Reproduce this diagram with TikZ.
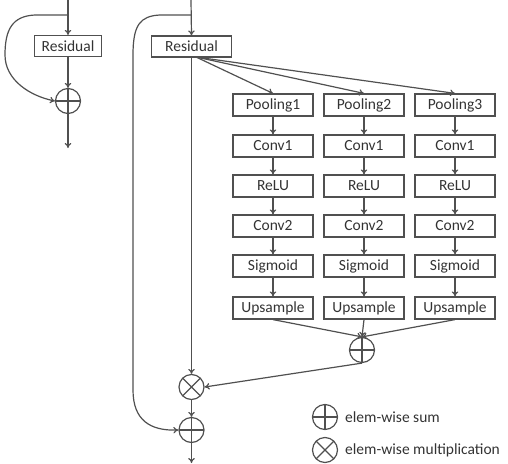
\documentclass[tikz,border=0pt]{standalone}
\usepackage{fontspec}
\setmainfont{Carlito}
\usetikzlibrary{arrows.meta}
\definecolor{ln}{HTML}{505050}
\definecolor{tx}{HTML}{333333}
\begin{document}
\begin{tikzpicture}[x=1pt,y=-1pt,
  lin/.style={draw=ln, line width=1.2pt},
  arr/.style={lin, -{To[length=5pt,width=6.5pt]}},
  box/.style={draw=ln, line width=1.2pt, minimum width=80pt, minimum height=22pt, inner sep=0pt, text=tx, font=\fontsize{15.5}{18}\selectfont},
  sumc/.style={draw=ln, line width=1.2pt, circle, minimum size=25pt, inner sep=0pt,
    path picture={\draw[ln, line width=1.2pt] (path picture bounding box.north) -- (path picture bounding box.south) (path picture bounding box.west) -- (path picture bounding box.east);}},
  mulc/.style={draw=ln, line width=1.2pt, circle, minimum size=25pt, inner sep=0pt,
    path picture={\draw[ln, line width=1.2pt] (path picture bounding box.north west) -- (path picture bounding box.south east) (path picture bounding box.north east) -- (path picture bounding box.south west);}},
  lab/.style={anchor=west, text=tx, inner sep=0pt, font=\fontsize{15.5}{18}\selectfont}
]
\useasboundingbox (0,0) rectangle (508,463);
% ---- left small block ----
\coordinate (lin) at (68,0);
\coordinate (lbr) at (68,15);
\node[box, minimum width=67pt, minimum height=21pt] (lres) at (68,46) {Residual};
\node[sumc] (lsum) at (68,101) {};
\coordinate (lout) at (68,148);
\draw[arr] (lin) -- (lres.north);
\draw[arr] (lres.south) -- (lsum.north);
\draw[arr] (lsum.south) -- (lout);
\draw[arr] (lbr) -- (35,15) .. controls (12,16) and (5,30) .. (5,55) .. controls (5,80) and (30,96) .. (lsum.west);
% ---- main block ----
\coordinate (min) at (191,0);
\coordinate (mbr) at (191,15);
\node[box, minimum width=80pt, minimum height=21pt] (res) at (191.5,46.5) {Residual};
\coordinate (rsrc) at (196,57);
\foreach \c/\x in {1/273,2/364,3/455}{
  \node[box] (p\c) at (\x,105) {Pooling\c};
  \node[box] (c\c) at (\x,146) {Conv1};
  \node[box] (r\c) at (\x,186) {ReLU};
  \node[box] (d\c) at (\x,226) {Conv2};
  \node[box] (g\c) at (\x,266) {Sigmoid};
  \node[box] (u\c) at (\x,308) {Upsample};
  \draw[arr] (rsrc) -- (p\c.north);
  \draw[arr] (p\c) -- (c\c);
  \draw[arr] (c\c) -- (r\c);
  \draw[arr] (r\c) -- (d\c);
  \draw[arr] (d\c) -- (g\c);
  \draw[arr] (g\c) -- (u\c);
}
\node[sumc] (bs) at (362,350) {};
\foreach \c in {1,2,3}{\draw[arr] (u\c.south) -- (bs.north);}
\node[mulc] (mul) at (191.5,387) {};
\node[sumc] (fs) at (191.5,430) {};
\coordinate (fout) at (191.5,463);
\draw[arr] (min) -- (res.north);
\draw[arr] (res.south) -- (mul.north);
\draw[arr] (bs.south) -- (mul.east);
\draw[arr] (mul.south) -- (fs.north);
\draw[arr] (fs.south) -- (fout);
\draw[arr] (mbr) -- (160,15) .. controls (140,16) and (133,25) .. (133,55) -- (133,390) .. controls (133,420) and (150,431) .. (fs.west);
% ---- legend ----
\node[sumc] (ls) at (325,417) {};
\node[lab] (lst) at (345,417) {elem-wise sum};
\node[mulc] (lm) at (325,450) {};
\node[lab] (lmt) at (345,450) {elem-wise multiplication};
\end{tikzpicture}
\end{document}
